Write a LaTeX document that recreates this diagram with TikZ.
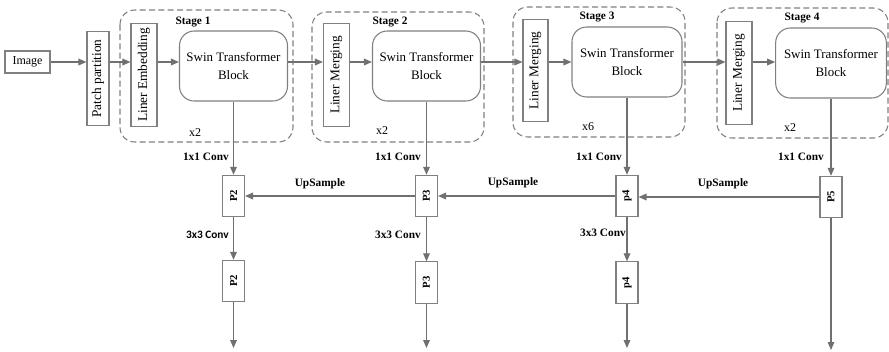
\documentclass[tikz,border=0pt]{standalone}
\usepackage{fontspec}
\setmainfont{Liberation Serif}
\newfontfamily\calib{Carlito}
\usepackage{xcolor}
\usetikzlibrary{arrows.meta}

\definecolor{linegray}{HTML}{707070}
\definecolor{boxgray}{HTML}{808080}

\begin{document}
\begin{tikzpicture}[x=0.75pt, y=-0.75pt,
    box/.style={draw=boxgray, line width=0.8pt, fill=white, inner sep=1pt, font=\fontsize{10}{11}\selectfont},
    vbox/.style={box, rotate=90, minimum width=77pt, minimum height=19.5pt},
    blk/.style={box, rounded corners=11pt, minimum width=81pt, minimum height=52.5pt, align=center, font=\fontsize{9.7}{14}\selectfont},
    pbox/.style={box, rotate=90, minimum width=31pt, minimum height=16.5pt, font=\fontsize{8}{9}\selectfont\bfseries},
    stagebox/.style={draw=boxgray, line width=0.8pt, dash pattern=on 4.5pt off 2.5pt, rounded corners=11pt},
    lbl/.style={font=\fontsize{8.5}{10}\selectfont\bfseries, inner sep=0pt},
    rep/.style={font=\fontsize{9}{10}\selectfont, inner sep=0pt},
    arr/.style={draw=linegray, line width=0.9pt, -{Triangle[length=6pt, width=5pt]}, color=linegray}]
    \useasboundingbox (0,0) rectangle (889,351);
    \coordinate (row) at (0,62);

    % Stages (dashed frames)
    \draw[stagebox] (120,10) rectangle (293,142);
    \draw[stagebox] (312,12) rectangle (484,142);
    \draw[stagebox] (513,7) rectangle (685,137);
    \draw[stagebox] (717,8) rectangle (888,138);
    \node[lbl] (st1) at (193,22) {Stage 1};
    \node[lbl] (st2) at (390,22) {Stage 2};
    \node[lbl] (st3) at (597,17) {Stage 3};
    \node[lbl] (st4) at (802,18) {Stage 4};
    \node[rep] (x1) at (195,133) {x2};
    \node[rep] (x2) at (382,131) {x2};
    \node[rep] (x3) at (588,127) {x6};
    \node[rep] (x4) at (790,128) {x2};

    % Backbone
    \node[box, minimum width=33.75pt, minimum height=16.5pt, font=\fontsize{9}{10}\selectfont] (img) at (27.5,62) {Image};
    \node[vbox, minimum width=71pt, minimum height=16.5pt] (pp) at (98,78.5) {Patch partition};
    \node[vbox] (le) at (144,75) {Liner Embedding};
    \node[blk] (b1) at (233.5,66) {Swin Transformer\\Block};
    \node[vbox] (lm2) at (336.5,75) {Liner Merging};
    \node[blk] (b2) at (426.5,66) {Swin Transformer\\Block};
    \node[vbox, minimum height=18.75pt] (lm3) at (535.5,70.5) {Liner Merging};
    \node[blk, minimum width=82.5pt] (b3) at (627,62) {Swin Transformer\\Block};
    \node[vbox] (lm4) at (739,73) {Liner Merging};
    \node[blk, minimum width=83pt] (b4) at (831,63) {Swin Transformer\\Block};

    \draw[arr] (img.east |- row) -- (pp.north |- row);
    \draw[arr] (pp.south |- row) -- (le.north |- row);
    \draw[arr] (le.south |- row) -- (b1.west |- row);
    \draw[arr] (b1.east |- row) -- (lm2.north |- row);
    \draw[arr] (lm2.south |- row) -- (b2.west |- row);
    \draw[arr] (b2.east |- row) -- (lm3.north |- row);
    \draw[arr] (lm3.south |- row) -- (b3.west |- row);
    \draw[arr] (b3.east |- row) -- (lm4.north |- row);
    \draw[arr] (lm4.south |- row) -- (b4.west |- row);

    % Feature pyramid
    \node[pbox] (p2a) at (233.5,196) {P2};
    \node[pbox] (p3a) at (426.5,196) {P3};
    \node[pbox] (p4a) at (627,196) {p4};
    \node[pbox] (p5) at (831,197) {P5};
    \node[pbox] (p2b) at (233.5,281) {P2};
    \node[pbox] (p3b) at (426.5,282.5) {P3};
    \node[pbox] (p4b) at (627,282.5) {p4};

    \draw[arr] (b1.south -| p2a) -- (p2a.east);
    \draw[arr] (b2.south -| p3a) -- (p3a.east);
    \draw[arr] (b3.south -| p4a) -- (p4a.east);
    \draw[arr] (b4.south -| p5) -- (p5.east);
    \node[lbl, anchor=east] (c1) at (229,157) {1x1 Conv};
    \node[lbl, anchor=east] (c2) at (421,157) {1x1 Conv};
    \node[lbl, anchor=east] (c3) at (622,157) {1x1 Conv};
    \node[lbl, anchor=east] (c4) at (824,157) {1x1 Conv};

    \draw[arr] (p5.north) -- (p5.north -| p4a.south);
    \draw[arr] (p4a.north) -- (p3a.south);
    \draw[arr] (p3a.north) -- (p2a.south);
    \node[lbl] (u1) at (320,184) {UpSample};
    \node[lbl] (u2) at (513,183) {UpSample};
    \node[lbl] (u3) at (723,184) {UpSample};

    \draw[arr] (p2a.west) -- (p2b.east);
    \draw[arr] (p3a.west) -- (p3b.east);
    \draw[arr] (p4a.west) -- (p4b.east);
    \node[lbl, font=\fontsize{8.5}{10}\selectfont\calib\bfseries, anchor=east] (k2) at (229,235) {3x3 Conv};
    \node[lbl, anchor=east] (k3) at (421,235) {3x3 Conv};
    \node[lbl, anchor=east] (k4) at (626,233) {3x3 Conv};

    \coordinate (e2) at (233.5,348);
    \coordinate (e3) at (426.5,348);
    \coordinate (e4) at (627,348);
    \coordinate (e5) at (831,350);
    \draw[arr] (p2b.west) -- (e2);
    \draw[arr] (p3b.west) -- (e3);
    \draw[arr] (p4b.west) -- (e4);
    \draw[arr] (p5.west) -- (e5);
\end{tikzpicture}
\end{document}
